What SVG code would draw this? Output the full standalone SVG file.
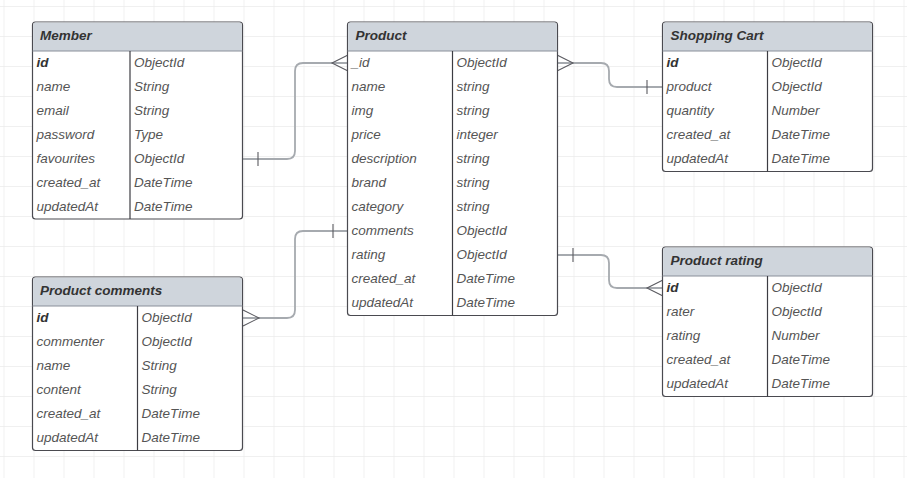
<svg xmlns="http://www.w3.org/2000/svg" width="907" height="478" viewBox="0 0 907 478">
<defs>
<pattern id="grid" x="3.5" y="6" width="30" height="30" patternUnits="userSpaceOnUse">
<path d="M0,0 H30 M0,0 V30" fill="none" stroke="#ebebeb" stroke-width="1.5"/>
</pattern>
</defs>
<style>
.box{fill:#ffffff;stroke:#4a4a50;stroke-width:1.2}
.hdr{fill:#cfd5dc}
.hline{stroke:#8a9099;stroke-width:1.2}
.div{stroke:#3c3c42;stroke-width:1.2}
.ht{font-family:"Liberation Sans",Arial,sans-serif;font-size:13.5px;font-weight:bold;font-style:italic;fill:#333333}
.t{font-family:"Liberation Sans",Arial,sans-serif;font-size:13.5px;font-style:italic;fill:#555555}
.k{font-weight:bold;fill:#333333}
.conn{fill:none;stroke:#a6aaaf;stroke-width:1.8}
.mark{fill:none;stroke:#5a5a60;stroke-width:1.1}
</style>
<rect width="907" height="478" fill="#ffffff"/>
<rect width="907" height="478" fill="url(#grid)"/>

<g id="connectors">
<path class="conn" d="M243,159 H287 Q295,159 295,151 V71 Q295,63 303,63 H348"/>
<path class="mark" d="M258,152 V166"/>
<path class="mark" d="M348,55 L332,63 L348,71"/>

<path class="conn" d="M557,63 H601 Q609,63 609,71 V79 Q609,87 617,87 H663"/>
<path class="mark" d="M557,55 L573,63 L557,71"/>
<path class="mark" d="M647,80 V94"/>

<path class="conn" d="M243,318 H287 Q295,318 295,310 V239 Q295,231 303,231 H348"/>
<path class="mark" d="M243,310 L259,318 L243,326"/>
<path class="mark" d="M333,224 V238"/>

<path class="conn" d="M557,255 H601 Q609,255 609,263 V280 Q609,288 617,288 H663"/>
<path class="mark" d="M573,248 V262"/>
<path class="mark" d="M663,280 L647,288 L663,296"/>
</g>

<g id="member">
<rect class="box" x="32.5" y="22" width="210" height="197" rx="3"/>
<path class="hdr" d="M35.5,22.6 H239.5 Q241.9,22.6 241.9,25 V51 H33.1 V25 Q33.1,22.6 35.5,22.6 Z"/>
<line class="hline" x1="32.5" y1="51" x2="242.5" y2="51"/>
<line class="div" x1="130" y1="51" x2="130" y2="219"/>
<text class="ht" x="40" y="39.5">Member</text>
<text class="t k" x="36.5" y="66.5">id</text><text class="t" x="134" y="66.5">ObjectId</text>
<text class="t" x="36.5" y="90.5">name</text><text class="t" x="134" y="90.5">String</text>
<text class="t" x="36.5" y="114.5">email</text><text class="t" x="134" y="114.5">String</text>
<text class="t" x="36.5" y="138.5">password</text><text class="t" x="134" y="138.5">Type</text>
<text class="t" x="36.5" y="162.5">favourites</text><text class="t" x="134" y="162.5">ObjectId</text>
<text class="t" x="36.5" y="186.5">created_at</text><text class="t" x="134" y="186.5">DateTime</text>
<text class="t" x="36.5" y="210.5">updatedAt</text><text class="t" x="134" y="210.5">DateTime</text>
</g>

<g id="product">
<rect class="box" x="347.5" y="22" width="210" height="293.5" rx="3"/>
<path class="hdr" d="M350.5,22.6 H554.5 Q556.9,22.6 556.9,25 V51 H348.1 V25 Q348.1,22.6 350.5,22.6 Z"/>
<line class="hline" x1="347.5" y1="51" x2="557.5" y2="51"/>
<line class="div" x1="452.5" y1="51" x2="452.5" y2="315.5"/>
<text class="ht" x="355.5" y="39.5">Product</text>
<text class="t" x="351.5" y="66.5">_id</text><text class="t" x="456.5" y="66.5">ObjectId</text>
<text class="t" x="351.5" y="90.5">name</text><text class="t" x="456.5" y="90.5">string</text>
<text class="t" x="351.5" y="114.5">img</text><text class="t" x="456.5" y="114.5">string</text>
<text class="t" x="351.5" y="138.5">price</text><text class="t" x="456.5" y="138.5">integer</text>
<text class="t" x="351.5" y="162.5">description</text><text class="t" x="456.5" y="162.5">string</text>
<text class="t" x="351.5" y="186.5">brand</text><text class="t" x="456.5" y="186.5">string</text>
<text class="t" x="351.5" y="210.5">category</text><text class="t" x="456.5" y="210.5">string</text>
<text class="t" x="351.5" y="234.5">comments</text><text class="t" x="456.5" y="234.5">ObjectId</text>
<text class="t" x="351.5" y="258.5">rating</text><text class="t" x="456.5" y="258.5">ObjectId</text>
<text class="t" x="351.5" y="282.5">created_at</text><text class="t" x="456.5" y="282.5">DateTime</text>
<text class="t" x="351.5" y="306.5">updatedAt</text><text class="t" x="456.5" y="306.5">DateTime</text>
</g>

<g id="shopping-cart">
<rect class="box" x="662.5" y="22" width="210" height="149.5" rx="3"/>
<path class="hdr" d="M665.5,22.6 H869.5 Q871.9,22.6 871.9,25 V51 H663.1 V25 Q663.1,22.6 665.5,22.6 Z"/>
<line class="hline" x1="662.5" y1="51" x2="872.5" y2="51"/>
<line class="div" x1="767.5" y1="51" x2="767.5" y2="171.5"/>
<text class="ht" x="670.5" y="39.5">Shopping Cart</text>
<text class="t k" x="666.5" y="66.5">id</text><text class="t" x="771.5" y="66.5">ObjectId</text>
<text class="t" x="666.5" y="90.5">product</text><text class="t" x="771.5" y="90.5">ObjectId</text>
<text class="t" x="666.5" y="114.5">quantity</text><text class="t" x="771.5" y="114.5">Number</text>
<text class="t" x="666.5" y="138.5">created_at</text><text class="t" x="771.5" y="138.5">DateTime</text>
<text class="t" x="666.5" y="162.5">updatedAt</text><text class="t" x="771.5" y="162.5">DateTime</text>
</g>

<g id="product-rating">
<rect class="box" x="662.5" y="247" width="210" height="149.5" rx="3"/>
<path class="hdr" d="M665.5,247.6 H869.5 Q871.9,247.6 871.9,250 V276 H663.1 V250 Q663.1,247.6 665.5,247.6 Z"/>
<line class="hline" x1="662.5" y1="276" x2="872.5" y2="276"/>
<line class="div" x1="767.5" y1="276" x2="767.5" y2="396.5"/>
<text class="ht" x="670.5" y="264.5">Product rating</text>
<text class="t k" x="666.5" y="291.5">id</text><text class="t" x="771.5" y="291.5">ObjectId</text>
<text class="t" x="666.5" y="315.5">rater</text><text class="t" x="771.5" y="315.5">ObjectId</text>
<text class="t" x="666.5" y="339.5">rating</text><text class="t" x="771.5" y="339.5">Number</text>
<text class="t" x="666.5" y="363.5">created_at</text><text class="t" x="771.5" y="363.5">DateTime</text>
<text class="t" x="666.5" y="387.5">updatedAt</text><text class="t" x="771.5" y="387.5">DateTime</text>
</g>

<g id="product-comments">
<rect class="box" x="32.5" y="277" width="210" height="173.5" rx="3"/>
<path class="hdr" d="M35.5,277.6 H239.5 Q241.9,277.6 241.9,280 V306 H33.1 V280 Q33.1,277.6 35.5,277.6 Z"/>
<line class="hline" x1="32.5" y1="306" x2="242.5" y2="306"/>
<line class="div" x1="137.5" y1="306" x2="137.5" y2="450.5"/>
<text class="ht" x="40" y="294.5">Product comments</text>
<text class="t k" x="36.5" y="321.5">id</text><text class="t" x="141.5" y="321.5">ObjectId</text>
<text class="t" x="36.5" y="345.5">commenter</text><text class="t" x="141.5" y="345.5">ObjectId</text>
<text class="t" x="36.5" y="369.5">name</text><text class="t" x="141.5" y="369.5">String</text>
<text class="t" x="36.5" y="393.5">content</text><text class="t" x="141.5" y="393.5">String</text>
<text class="t" x="36.5" y="417.5">created_at</text><text class="t" x="141.5" y="417.5">DateTime</text>
<text class="t" x="36.5" y="441.5">updatedAt</text><text class="t" x="141.5" y="441.5">DateTime</text>
</g>
</svg>
